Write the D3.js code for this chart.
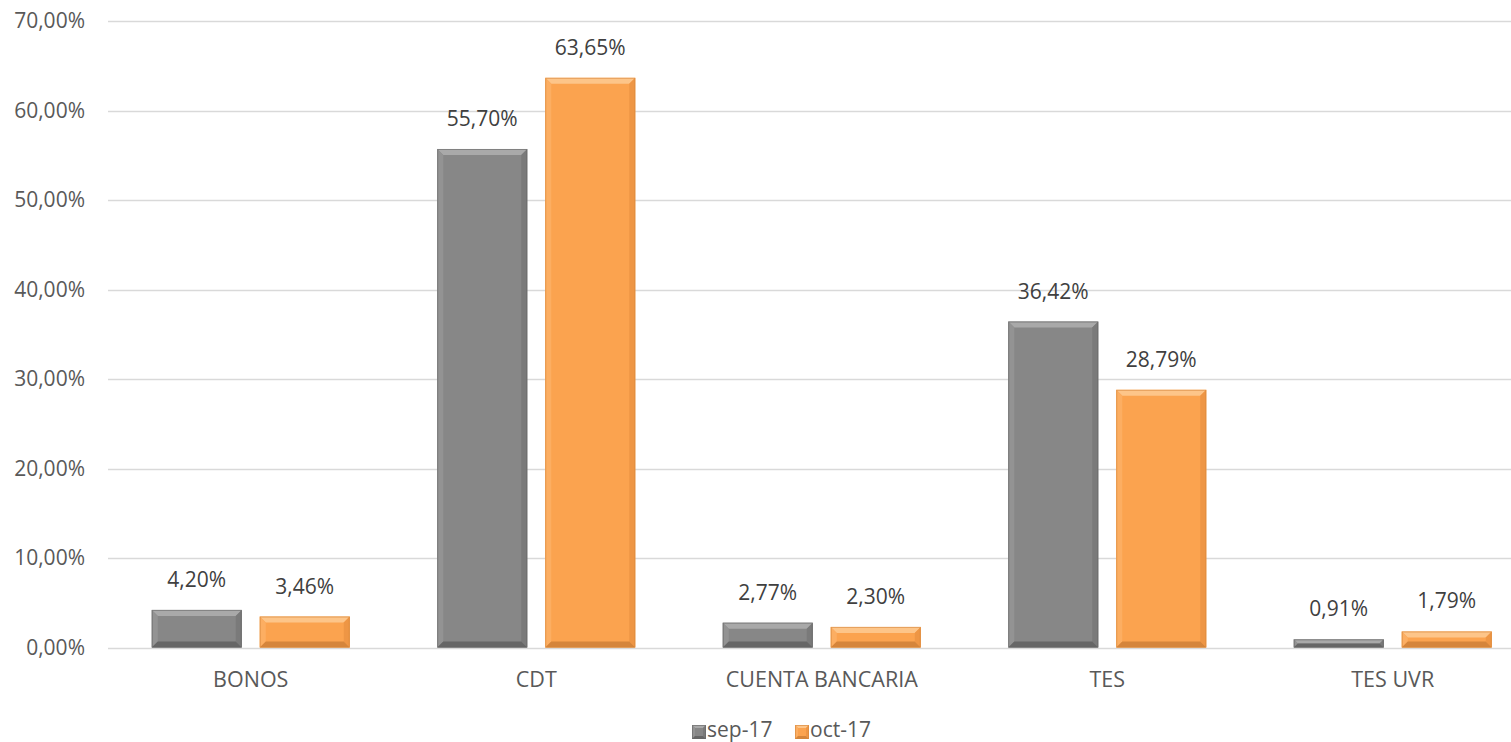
<!DOCTYPE html>
<html><head><meta charset="utf-8">
<script src="https://cdn.jsdelivr.net/npm/d3@7"></script>
<style>
html,body{margin:0;padding:0;background:#fff;}
svg{display:block;font-family:"Open Sans",sans-serif;}
</style></head>
<body><svg id="c" width="1511" height="742"></svg>
<script>
const categories = ["BONOS","CDT","CUENTA BANCARIA","TES","TES UVR"];
const seriesNames = ["sep-17","oct-17"];
const sep17 = [4.20,55.70,2.77,36.42,0.91];
const oct17 = [3.46,63.65,2.30,28.79,1.79];
const yTicks = [0,10,20,30,40,50,60,70];

const colors = {"sep-17":{base:"#878787",light:"#939393",lighter:"#a9a9a9",dark:"#7a7a7a",darker:"#666666"},
                "oct-17":{base:"#fba34f",light:"#fcae62",lighter:"#fdc589",dark:"#ee9645",darker:"#d5853b"}};

const svg = d3.select("#c");
const x0 = 108, x1 = 108 + 285.5*5;
const y = d3.scaleLinear().domain([0,70]).range([647.5,21]);
const x = d3.scaleBand().domain(categories).range([x0,x1]).paddingInner(0).paddingOuter(0);
const inner = d3.scaleBand().domain(seriesNames).range([43.75, 285.5-43.75]).paddingInner(1/6).paddingOuter(0);

const fmt = v => d3.format(".2f")(v).replace(".",",") + "%";

// gridlines
svg.append("g").selectAll("line").data(yTicks).join("line")
  .attr("x1",x0).attr("x2",1511).attr("y1",d=>Math.round(y(d))+0.5).attr("y2",d=>Math.round(y(d))+0.5)
  .attr("stroke","#d9d9d9").attr("stroke-width",1.3);

// y axis labels
svg.append("g").selectAll("text").data(yTicks).join("text")
  .attr("x",85).attr("y",d=>y(d)).attr("dy","0.35em").attr("text-anchor","end")
  .attr("font-size",21).attr("fill","#595959").text(d=>d3.format(".2f")(d).replace(".",",")+"%");

// category labels
svg.append("g").selectAll("text").data(categories).join("text")
  .attr("x",d=>x(d)+x.bandwidth()/2).attr("y",679).attr("dy","0.35em").attr("text-anchor","middle")
  .attr("font-size",21.5).attr("fill","#595959").text(d=>d);

const data = [];
categories.forEach((c,i)=>{
  data.push({cat:c,s:"sep-17",v:sep17[i]});
  data.push({cat:c,s:"oct-17",v:oct17[i]});
});

function bevelBar(g, bx, by, bw, bh, col, bev){
  const b = Math.min(bev, bh/2, bw/2);
  g.append("rect").attr("x",bx).attr("y",by).attr("width",bw).attr("height",bh).attr("fill",col.base);
  const pts = (a)=>a.map(p=>p.join(",")).join(" ");
  g.append("polygon").attr("points",pts([[bx,by],[bx+bw,by],[bx+bw-b,by+b],[bx+b,by+b]])).attr("fill",col.lighter);
  g.append("polygon").attr("points",pts([[bx,by],[bx+b,by+b],[bx+b,by+bh-b],[bx,by+bh]])).attr("fill",col.light);
  g.append("polygon").attr("points",pts([[bx+bw,by],[bx+bw,by+bh],[bx+bw-b,by+bh-b],[bx+bw-b,by+b]])).attr("fill",col.dark);
  g.append("polygon").attr("points",pts([[bx,by+bh],[bx+b,by+bh-b],[bx+bw-b,by+bh-b],[bx+bw,by+bh]])).attr("fill",col.darker);
  g.append("rect").attr("x",bx+0.5).attr("y",by+0.5).attr("width",bw-1).attr("height",Math.max(0,bh-1))
    .attr("fill","none").attr("stroke",col.darker).attr("stroke-opacity",0.6).attr("stroke-width",1);
}

const bars = svg.append("g");
data.forEach(d=>{
  const bx = x(d.cat)+inner(d.s), bw = inner.bandwidth();
  const by = y(d.v), bh = y(0)-y(d.v);
  bevelBar(bars.append("g"), bx, by, bw, bh, colors[d.s], 6);
});

// value labels
svg.append("g").selectAll("text").data(data).join("text")
  .attr("x",d=>x(d.cat)+inner(d.s)+inner.bandwidth()/2).attr("y",d=>y(d.v)-23)
  .attr("text-anchor","middle").attr("font-size",21).attr("fill","#404040").text(d=>fmt(d.v));

// legend
const leg = svg.append("g");
const legItems = [{s:"sep-17",x:692},{s:"oct-17",x:795}];
legItems.forEach(it=>{
  const g = leg.append("g");
  bevelBar(g, it.x, 725, 14, 14, colors[it.s], 3);
  g.append("text").attr("x",it.x+15).attr("y",730).attr("dy","0.35em").attr("font-size",21)
    .attr("fill","#595959").text(it.s);
});
</script></body></html>
